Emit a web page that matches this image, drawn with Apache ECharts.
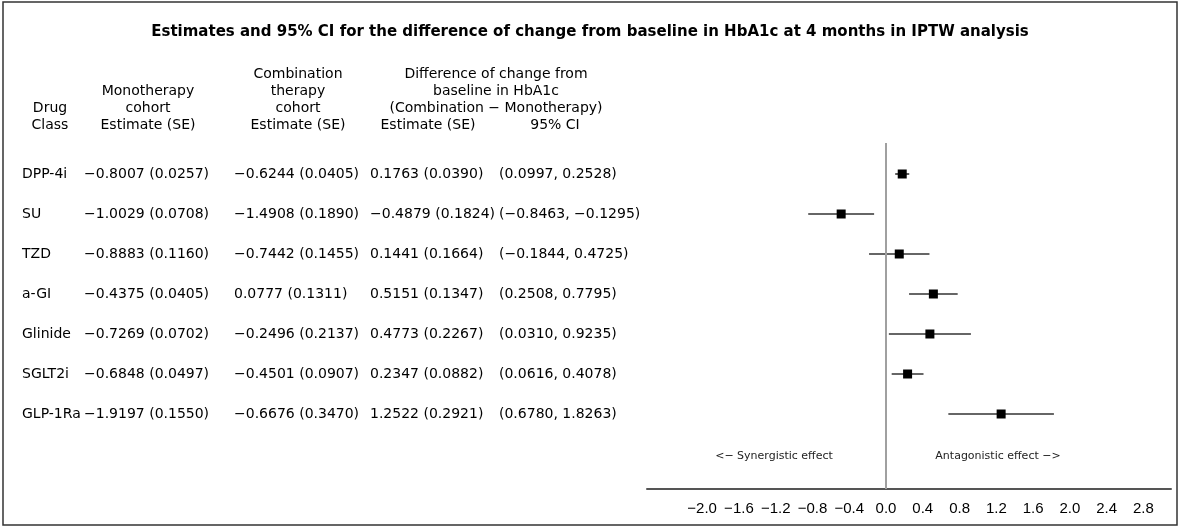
<!DOCTYPE html>
<html>
<head>
<meta charset="utf-8">
<script src="https://cdn.jsdelivr.net/npm/echarts@6/dist/echarts.min.js"></script>
<style>
html,body{margin:0;padding:0;background:#fff;}
#chart{width:1181px;height:529px;}
</style>
</head>
<body>
<div id="chart"></div>
<script>
// ---- data ----
var drugClasses = ['DPP-4i', 'SU', 'TZD', 'a-GI', 'Glinide', 'SGLT2i', 'GLP-1Ra'];
var monoEst = [-0.8007, -1.0029, -0.8883, -0.4375, -0.7269, -0.6848, -1.9197];
var monoSE  = [0.0257, 0.0708, 0.1160, 0.0405, 0.0702, 0.0497, 0.1550];
var combEst = [-0.6244, -1.4908, -0.7442, 0.0777, -0.2496, -0.4501, -0.6676];
var combSE  = [0.0405, 0.1890, 0.1455, 0.1311, 0.2137, 0.0907, 0.3470];
var diffEst = [0.1763, -0.4879, 0.1441, 0.5151, 0.4773, 0.2347, 1.2522];
var diffSE  = [0.0390, 0.1824, 0.1664, 0.1347, 0.2267, 0.0882, 0.2921];
var ciLow   = [0.0997, -0.8463, -0.1844, 0.2508, 0.0310, 0.0616, 0.6780];
var ciHigh  = [0.2528, -0.1295, 0.4725, 0.7795, 0.9235, 0.4078, 1.8263];
var tickValues = [-2.0, -1.6, -1.2, -0.8, -0.4, 0.0, 0.4, 0.8, 1.2, 1.6, 2.0, 2.4, 2.8];
var titleText = 'Estimates and 95% CI for the difference of change from baseline in HbA1c at 4 months in IPTW analysis';
var leftNote = '<\u2212 Synergistic effect';
var rightNote = 'Antagonistic effect \u2212>';

// ---- layout constants ----
var FONT = 'DejaVu Sans';
var FS = 14;
var colX = [22, 84, 234, 370, 499];   // left edges of table columns (px in table grid)
var rowTop = 143, rowBottom = 489;
var yMin = -0.775, yMax = 7.875;

function f4(v) { return v.toFixed(4).replace('-', '\u2212'); }
function estSE(e, s) { return f4(e) + ' (' + f4(s) + ')'; }

var idx = drugClasses.map(function (_, i) { return i; });
var tableCols = [
  idx.map(function (i) { return drugClasses[i]; }),
  idx.map(function (i) { return estSE(monoEst[i], monoSE[i]); }),
  idx.map(function (i) { return estSE(combEst[i], combSE[i]); }),
  idx.map(function (i) { return estSE(diffEst[i], diffSE[i]); }),
  idx.map(function (i) { return '(' + f4(ciLow[i]) + ', ' + f4(ciHigh[i]) + ')'; })
];

var series = [];
tableCols.forEach(function (col, c) {
  series.push({
    type: 'scatter', xAxisIndex: 0, yAxisIndex: 0, symbolSize: 0, silent: true,
    itemStyle: { opacity: 1 },
    data: col.map(function (t, i) { return { value: [colX[c], i], text: t }; }),
    label: {
      show: true, position: 'right', distance: 0, opacity: 1,
      formatter: function (p) { return p.data.text; },
      fontFamily: FONT, fontSize: FS, color: '#000'
    }
  });
});

// CI lines
series.push({
  type: 'custom', xAxisIndex: 1, yAxisIndex: 1, silent: true,
  data: idx.map(function (i) { return [ciLow[i], ciHigh[i], i]; }),
  renderItem: function (params, api) {
    var a = api.coord([api.value(0), api.value(2)]);
    var b = api.coord([api.value(1), api.value(2)]);
    return { type: 'line', shape: { x1: a[0], y1: a[1], x2: b[0], y2: b[1] },
             style: { stroke: '#333', lineWidth: 1.6 } };
  },
  z: 2
});
// point estimates
series.push({
  type: 'scatter', xAxisIndex: 1, yAxisIndex: 1, silent: true,
  symbol: 'rect', symbolSize: 9,
  itemStyle: { color: '#000', opacity: 1 },
  data: idx.map(function (i) { return [diffEst[i], i]; }),
  markLine: {
    silent: true, symbol: 'none', label: { show: false },
    lineStyle: { color: '#a0a0a0', width: 2, type: 'solid' },
    data: [{ xAxis: 0 }]
  },
  z: 3
});

function headerText(lines, cx, ys) {
  return lines.map(function (t, k) {
    return { type: 'text', silent: true,
      style: { text: t, x: cx, y: ys[k], align: 'center', verticalAlign: 'middle',
               font: FS + 'px "' + FONT + '"', fill: '#000' } };
  });
}
var hy = [74, 91, 108, 125];
var graphics = [
  { type: 'rect', silent: true, shape: { x: 3, y: 2, width: 1174, height: 523 },
    style: { fill: 'none', stroke: '#333', lineWidth: 1.5 } },
  { type: 'text', silent: true, style: { text: titleText, x: 590, y: 32, align: 'center', verticalAlign: 'middle',
      font: 'bold 15px "' + FONT + '"', fill: '#000' } },
  { type: 'text', silent: true, style: { text: leftNote, x: 774, y: 456, align: 'center', verticalAlign: 'middle',
      font: '11px "' + FONT + '"', fill: '#222' } },
  { type: 'text', silent: true, style: { text: rightNote, x: 998, y: 456, align: 'center', verticalAlign: 'middle',
      font: '11px "' + FONT + '"', fill: '#222' } }
];
graphics = graphics
  .concat(headerText(['Drug', 'Class'], 50, [108, 125]))
  .concat(headerText(['Monotherapy', 'cohort', 'Estimate (SE)'], 148, [91, 108, 125]))
  .concat(headerText(['Combination', 'therapy', 'cohort', 'Estimate (SE)'], 298, hy))
  .concat(headerText(['Difference of change from', 'baseline in HbA1c', '(Combination \u2212 Monotherapy)'], 496, [74, 91, 108]))
  .concat(headerText(['Estimate (SE)'], 428, [125]))
  .concat(headerText(['95% CI'], 555, [125]));

var option = {
  animation: false,
  backgroundColor: '#fff',
  grid: [
    { left: 0, width: 640, top: rowTop, bottom: 529 - rowBottom },
    { left: 647, width: 524, top: rowTop, bottom: 529 - rowBottom }
  ],
  xAxis: [
    { gridIndex: 0, type: 'value', min: 0, max: 640, show: false },
    { gridIndex: 1, type: 'value', min: -2.6, max: 3.1,
      axisLine: { show: true, onZero: false, lineStyle: { color: '#555', width: 2 } },
      axisTick: { show: false },
      splitLine: { show: false },
      axisLabel: { customValues: tickValues, margin: 12, color: '#000', fontFamily: 'Liberation Sans', fontSize: 15,
        formatter: function (v) { return v.toFixed(1).replace('-', '\u2212'); } } }
  ],
  yAxis: [
    { gridIndex: 0, type: 'value', min: yMin, max: yMax, inverse: true, show: false },
    { gridIndex: 1, type: 'value', min: yMin, max: yMax, inverse: true, show: false }
  ],
  graphic: graphics,
  series: series
};
var chart = echarts.init(document.getElementById('chart'), null, { renderer: 'canvas' });
chart.setOption(option);
</script>
</body>
</html>
